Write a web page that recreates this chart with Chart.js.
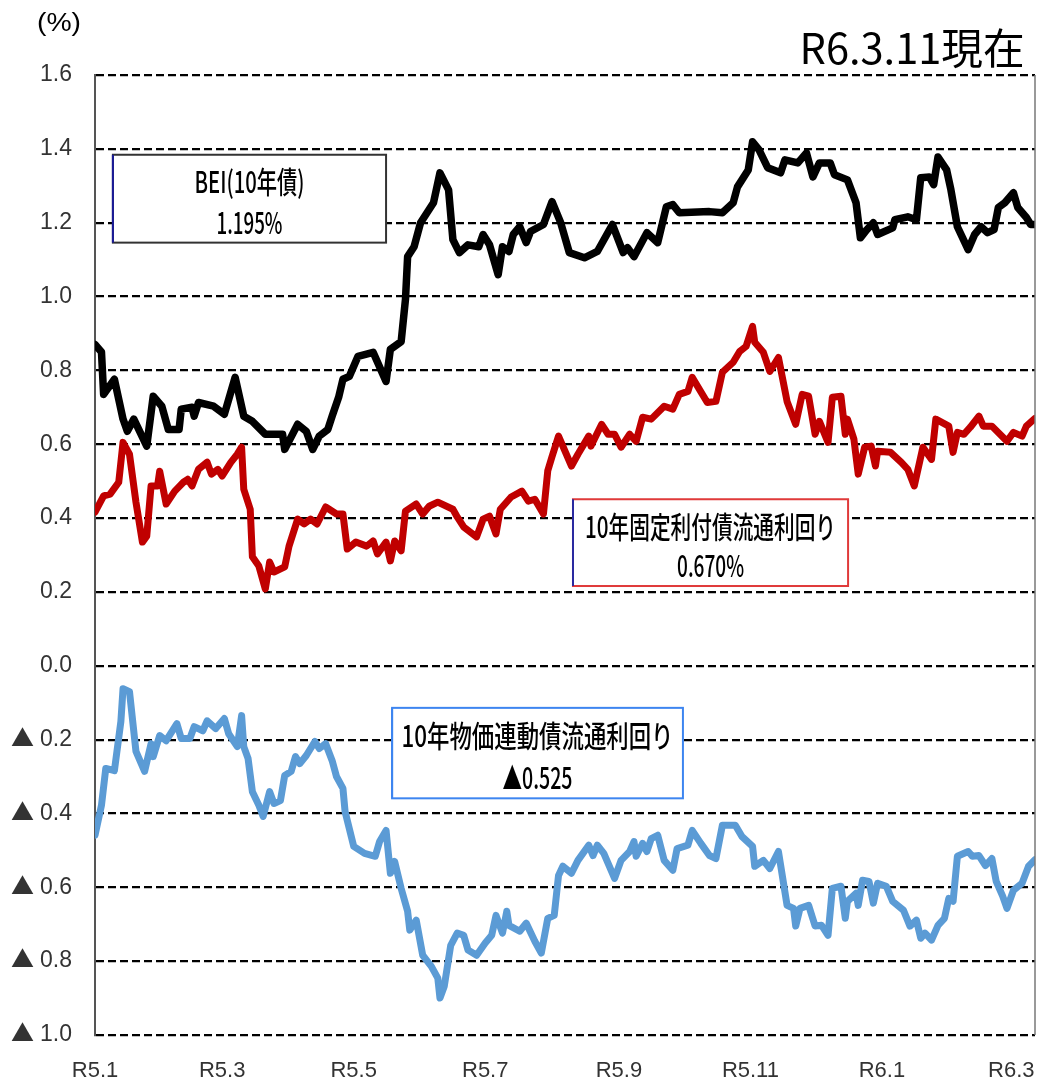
<!DOCTYPE html>
<html lang="ja">
<head>
<meta charset="utf-8">
<title>BEI（10年債）</title>
<script src="https://cdn.jsdelivr.net/npm/chart.js@4.4.1/dist/chart.umd.min.js"></script>
<style>
  html, body { margin: 0; padding: 0; background: #fff; }
  #wrap { width: 1040px; height: 1088px; }
  /* bigger full-width triangle for the minus sign only */
  @font-face {
    font-family: 'TriMark';
    src: local('Noto Sans CJK JP Regular'), local('NotoSansCJKjp-Regular'), local('Noto Sans CJK JP');
    unicode-range: U+25B2;
  }
</style>
</head>
<body>
<div id="wrap"><canvas id="bondChart"></canvas></div>
<script>
// x values are days counted from R5.1.1 (2023-01-01)
const tickDays = [0, 59, 120, 181, 243, 304, 365, 425];
const tickLabels = ['R5.1', 'R5.3', 'R5.5', 'R5.7', 'R5.9', 'R5.11', 'R6.1', 'R6.3'];
const lastDay = 436;

// BEI (10年債)
const beiPoints = [
  [0,0.87],[3,0.85],[4,0.735],[9,0.776],[13,0.668],[15,0.635],[18,0.668],[24,0.595],[27,0.73],[31,0.703],
  [34,0.64],[39,0.64],[40,0.695],[45,0.70],[46,0.676],[48,0.713],[55,0.703],[60,0.681],[65,0.781],[69,0.676],
  [73,0.662],[79,0.627],[87,0.627],[88,0.586],[94,0.654],[98,0.635],[101,0.586],[104,0.622],[108,0.64],[110,0.676],
  [113,0.727],[115,0.776],[118,0.784],[122,0.838],[129,0.849],[135,0.770],[137,0.857],[142,0.878],[144,0.992],[145,1.108],
  [148,1.135],[151,1.2],[157,1.254],[160,1.335],[164,1.289],[166,1.154],[169,1.119],[173,1.14],[178,1.135],[180,1.168],
  [183,1.14],[187,1.059],[189,1.135],[192,1.122],[194,1.168],[197,1.189],[200,1.146],[202,1.176],[208,1.195],[212,1.257],
  [216,1.20],[220,1.119],[227,1.105],[233,1.122],[240,1.195],[245,1.119],[247,1.132],[250,1.108],[256,1.173],[261,1.146],
  [265,1.243],[268,1.249],[271,1.227],[285,1.23],[291,1.227],[296,1.254],[298,1.297],[303,1.343],[305,1.419],[308,1.397],
  [312,1.349],[318,1.335],[320,1.370],[326,1.362],[330,1.389],[333,1.324],[336,1.362],[341,1.362],[343,1.330],[349,1.316],
  [353,1.254],[355,1.159],[358,1.181],[361,1.2],[363,1.168],[370,1.186],[371,1.208],[377,1.216],[381,1.208],[383,1.322],
  [387,1.324],[389,1.303],[391,1.378],[395,1.343],[397,1.289],[400,1.189],[405,1.127],[408,1.168],[411,1.189],[414,1.173],
  [417,1.181],[419,1.241],[422,1.254],[426,1.281],[428,1.241],[432,1.214],[434,1.195],[436,1.195]
];

// 10年固定利付債流通利回り
const fixedPoints = [
  [0,0.416],[4,0.46],[7,0.465],[11,0.497],[13,0.605],[16,0.573],[19,0.443],[22,0.335],[24,0.351],[26,0.487],
  [29,0.487],[30,0.527],[33,0.438],[37,0.473],[41,0.497],[43,0.505],[45,0.487],[48,0.532],[52,0.551],[54,0.519],
  [57,0.532],[59,0.514],[63,0.551],[66,0.573],[68,0.592],[69,0.478],[72,0.424],[73,0.295],[76,0.27],[79,0.208],
  [81,0.281],[83,0.254],[88,0.268],[90,0.324],[94,0.397],[97,0.384],[100,0.397],[103,0.384],[107,0.43],[112,0.411],
  [115,0.411],[117,0.316],[121,0.335],[126,0.324],[129,0.338],[131,0.303],[135,0.335],[137,0.284],[139,0.338],[142,0.311],
  [144,0.419],[149,0.438],[152,0.411],[155,0.432],[159,0.443],[166,0.424],[168,0.403],[171,0.376],[177,0.349],[180,0.397],
  [183,0.405],[186,0.357],[188,0.424],[193,0.457],[198,0.473],[201,0.446],[204,0.451],[208,0.411],[210,0.528],[212,0.567],
  [215,0.622],[221,0.541],[224,0.573],[229,0.622],[230,0.595],[235,0.654],[238,0.627],[241,0.627],[244,0.592],[248,0.627],
  [251,0.608],[254,0.673],[258,0.668],[264,0.703],[268,0.695],[271,0.735],[275,0.743],[277,0.781],[284,0.713],[288,0.716],
  [291,0.795],[296,0.822],[299,0.851],[302,0.865],[305,0.919],[306,0.876],[310,0.849],[313,0.797],[317,0.835],[321,0.716],
  [325,0.654],[328,0.735],[331,0.730],[334,0.627],[336,0.662],[340,0.605],[342,0.727],[346,0.730],[348,0.627],[349,0.668],
  [352,0.614],[354,0.519],[357,0.592],[360,0.595],[362,0.541],[363,0.581],[369,0.578],[374,0.551],[377,0.532],[380,0.487],
  [384,0.592],[388,0.559],[390,0.668],[396,0.649],[398,0.578],[400,0.632],[403,0.627],[406,0.646],[410,0.676],[412,0.649],
  [416,0.649],[423,0.608],[426,0.632],[430,0.622],[432,0.649],[436,0.670]
];

// 10年物価連動債流通利回り
const linkerPoints = [
  [0,-0.459],[3,-0.378],[5,-0.278],[9,-0.284],[12,-0.151],[13,-0.062],[16,-0.070],[19,-0.232],[23,-0.286],[26,-0.211],
  [27,-0.246],[30,-0.189],[33,-0.203],[38,-0.157],[40,-0.197],[44,-0.197],[46,-0.165],[50,-0.176],[52,-0.149],[56,-0.170],
  [60,-0.143],[62,-0.184],[66,-0.219],[68,-0.135],[69,-0.219],[71,-0.251],[73,-0.341],[76,-0.378],[78,-0.408],[81,-0.341],
  [83,-0.373],[86,-0.365],[88,-0.297],[91,-0.286],[93,-0.246],[95,-0.265],[98,-0.243],[102,-0.205],[104,-0.224],[107,-0.211],
  [110,-0.257],[112,-0.300],[115,-0.332],[116,-0.395],[120,-0.489],[125,-0.508],[130,-0.516],[132,-0.476],[135,-0.446],[137,-0.562],
  [139,-0.530],[142,-0.603],[145,-0.665],[146,-0.716],[149,-0.689],[152,-0.784],[156,-0.814],[159,-0.846],[160,-0.9],[162,-0.868],
  [165,-0.757],[168,-0.724],[171,-0.730],[173,-0.770],[177,-0.784],[181,-0.751],[184,-0.730],[186,-0.676],[189,-0.724],[191,-0.665],
  [192,-0.703],[197,-0.719],[200,-0.697],[204,-0.746],[207,-0.778],[210,-0.684],[213,-0.676],[215,-0.568],[217,-0.543],[221,-0.562],
  [224,-0.527],[229,-0.486],[231,-0.514],[233,-0.486],[236,-0.508],[238,-0.535],[241,-0.576],[244,-0.527],[248,-0.503],[250,-0.476],
  [251,-0.516],[254,-0.481],[256,-0.503],[258,-0.468],[261,-0.459],[264,-0.527],[268,-0.554],[270,-0.495],[275,-0.486],[277,-0.446],
  [281,-0.481],[285,-0.514],[288,-0.522],[291,-0.432],[297,-0.432],[300,-0.462],[305,-0.489],[306,-0.543],[310,-0.527],[313,-0.549],
  [317,-0.503],[321,-0.649],[324,-0.657],[325,-0.705],[327,-0.657],[331,-0.649],[334,-0.705],[337,-0.703],[340,-0.730],[342,-0.603],
  [346,-0.597],[348,-0.684],[349,-0.638],[353,-0.616],[354,-0.649],[356,-0.581],[359,-0.584],[361,-0.643],[363,-0.589],[367,-0.597],
  [370,-0.638],[375,-0.662],[378,-0.705],[381,-0.689],[383,-0.738],[385,-0.724],[388,-0.743],[391,-0.703],[394,-0.684],[396,-0.630],
  [398,-0.638],[400,-0.516],[405,-0.503],[407,-0.516],[410,-0.514],[413,-0.541],[416,-0.522],[418,-0.584],[421,-0.624],[423,-0.657],
  [426,-0.608],[430,-0.589],[433,-0.543],[436,-0.525]
];

const asOfText = 'R6.3.11現在';
const unitText = '(%)';
const beiLabel = ['BEI(10年債)', '1.195%'];
const fixedLabel = ['10年固定利付債流通利回り', '0.670%'];
const linkerLabel = ['10年物価連動債流通利回り', '▲0.525'];

const numFont = "'Liberation Sans', Arial, sans-serif";
const tickFont = "TriMark, 'Liberation Sans', Arial, sans-serif";
const jpFont = "'Noto Sans CJK JP', 'Noto Sans', sans-serif";

function toXY(points) {
  return points.map(p => ({ x: p[0], y: p[1] }));
}

// draw text squeezed/stretched to a given width (the source uses a narrow font)
function drawFitted(ctx, text, cx, cy, font, width) {
  ctx.save();
  ctx.font = font;
  const w = ctx.measureText(text).width;
  ctx.translate(cx, cy);
  ctx.scale(width / w, 1);
  ctx.textAlign = 'center';
  ctx.textBaseline = 'middle';
  ctx.fillStyle = '#000';
  ctx.fillText(text, 0, 0);
  ctx.restore();
}

// label boxes are placed in data units (day, %)
const boxes = [
  { lines: beiLabel, x0: 8.3, x1: 135, top: 1.384, bottom: 1.146, widths: [110, 66], color: '#333', left: '#1a1a99' },
  { lines: fixedLabel, x0: 221.7, x1: 349.3, top: 0.451, bottom: 0.216, widths: [251, 67], color: '#e03a3a', left: '#2a2aa0' },
  { lines: linkerLabel, x0: 137.8, x1: 272.7, top: -0.114, bottom: -0.359, widths: [272, 70], color: '#3d85f0', left: '#3d85f0' }
];

const decorPlugin = {
  id: 'decor',
  afterDraw(chart) {
    const ctx = chart.ctx;
    const area = chart.chartArea;
    const xs = chart.scales.x;
    const ys = chart.scales.y;

    // right frame line
    ctx.save();
    ctx.strokeStyle = '#777';
    ctx.lineWidth = 1.5;
    ctx.beginPath();
    ctx.moveTo(area.right, area.top);
    ctx.lineTo(area.right, area.bottom);
    ctx.stroke();
    ctx.restore();

    boxes.forEach(b => {
      const l = xs.getPixelForValue(b.x0);
      const r = xs.getPixelForValue(b.x1);
      const t = ys.getPixelForValue(b.top);
      const btm = ys.getPixelForValue(b.bottom);
      ctx.save();
      ctx.fillStyle = '#fff';
      ctx.fillRect(l, t, r - l, btm - t);
      ctx.strokeStyle = b.color;
      ctx.lineWidth = 2;
      ctx.strokeRect(l, t, r - l, btm - t);
      ctx.strokeStyle = b.left;
      ctx.beginPath();
      ctx.moveTo(l, t);
      ctx.lineTo(l, btm);
      ctx.stroke();
      ctx.restore();
      const cx = (l + r) / 2;
      const h = btm - t;
      drawFitted(ctx, b.lines[0], cx, t + h * 0.31, '500 30px ' + jpFont, b.widths[0]);
      drawFitted(ctx, b.lines[1], cx, t + h * 0.77, '500 30px ' + jpFont, b.widths[1]);
    });

    drawFitted(ctx, asOfText, 912, 48, '42px ' + jpFont, 225);
    drawFitted(ctx, unitText, 59, 24, '25px ' + numFont, 44);
  }
};

function makeChart() {
  const ctx = document.getElementById('bondChart').getContext('2d');
  return new Chart(ctx, {
    type: 'line',
    data: {
      datasets: [
        {
          label: '10年物価連動債流通利回り',
          data: toXY(linkerPoints),
          borderColor: '#5b9bd5',
          borderWidth: 7
        },
        {
          label: '10年固定利付債流通利回り',
          data: toXY(fixedPoints),
          borderColor: '#c00000',
          borderWidth: 7
        },
        {
          label: 'BEI(10年債)',
          data: toXY(beiPoints),
          borderColor: '#000000',
          borderWidth: 7.5
        }
      ]
    },
    options: {
      responsive: true,
      maintainAspectRatio: false,
      animation: false,
      elements: {
        point: { radius: 0, hoverRadius: 0 },
        line: { tension: 0, borderJoinStyle: 'round', borderCapStyle: 'round', fill: false }
      },
      layout: { padding: { top: 75, right: 5, left: 0, bottom: 0 } },
      plugins: {
        legend: { display: false },
        tooltip: { enabled: false }
      },
      scales: {
        x: {
          type: 'linear',
          min: 0,
          max: lastDay,
          grid: { display: false },
          border: { display: false },
          afterBuildTicks: scale => {
            scale.ticks = tickDays.map(v => ({ value: v }));
          },
          afterFit: scale => {
            scale.height = 53;
            scale.paddingLeft = 0;
            scale.paddingRight = 0;
          },
          ticks: {
            autoSkip: false,
            maxRotation: 0,
            padding: 15,
            color: '#333',
            font: { family: numFont, size: 22 },
            callback: v => {
              const i = tickDays.indexOf(v);
              return i >= 0 ? tickLabels[i] : '';
            }
          }
        },
        y: {
          min: -1.0,
          max: 1.6,
          afterFit: scale => {
            scale.width = 95;
            scale.paddingTop = 0;
            scale.paddingBottom = 0;
          },
          grid: { color: '#000', lineWidth: 2.2, drawTicks: false },
          border: { display: true, color: '#555', width: 2, dash: [8, 4] },
          ticks: {
            stepSize: 0.2,
            padding: 23,
            color: '#333',
            font: { family: tickFont, size: 23 },
            callback: v => {
              const s = Math.abs(v).toFixed(1);
              return v < -0.001 ? '▲ ' + s : s;
            }
          }
        }
      }
    },
    plugins: [decorPlugin]
  });
}

let bondChart;
document.fonts.load('23px TriMark', '▲')
  .catch(() => null)
  .then(() => { bondChart = makeChart(); });
</script>
</body>
</html>
